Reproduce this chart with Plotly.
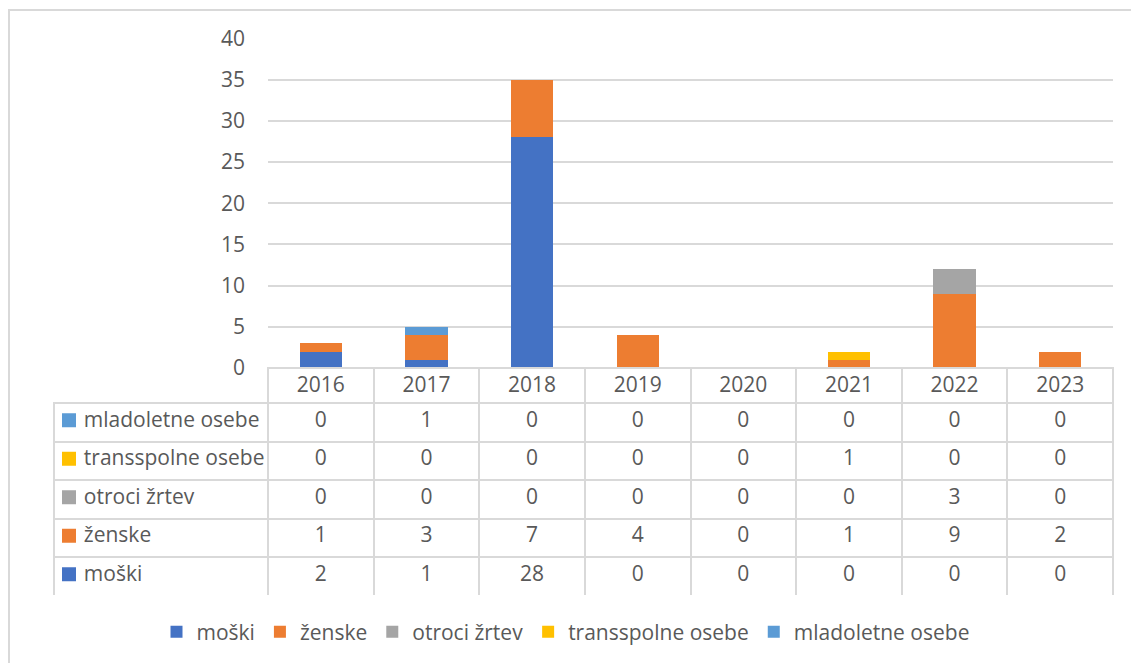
import plotly.graph_objects as go

W, H = 1131, 663

years = ["2016", "2017", "2018", "2019", "2020", "2021", "2022", "2023"]
moski = [2, 1, 28, 0, 0, 0, 0, 0]
zenske = [1, 3, 7, 4, 0, 1, 9, 2]
otroci_zrtev = [0, 0, 0, 0, 0, 0, 3, 0]
transspolne = [0, 0, 0, 0, 0, 1, 0, 0]
mladoletne = [0, 1, 0, 0, 0, 0, 0, 0]

series = [
    ("moški", moski, "#4472c4"),
    ("ženske", zenske, "#ed7d31"),
    ("otroci žrtev", otroci_zrtev, "#a5a5a5"),
    ("transspolne osebe", transspolne, "#ffc000"),
    ("mladoletne osebe", mladoletne, "#5b9bd5"),
]

FONT = "'Open Sans', sans-serif"
FS = 21
TXT = "#595959"
GRID = "#d9d9d9"
NBSP = "\u00a0"

# geometrija (px od zgornjega levega kota)
TAB_L, TAB_R = 54, 1113
PLOT_L = 268
HEAD_T, HEAD_H, ROW_H = 368, 35, 38.5


def px_x(p):
    return p / W


def px_y(p):
    return 1 - p / H


fig = go.Figure()

# stolpci
for name, vals, col in series:
    fig.add_trace(
        go.Bar(
            x=years,
            y=vals,
            name=name,
            marker=dict(color=col, line=dict(width=0)),
        )
    )

# podatkovna tabela pod grafom (vrstice v obratnem vrstnem redu)
rows = list(reversed(series))
# nedeljivi presledki, da se besedilo v celici ne prelomi
first_col = [NBSP * 4 + name.replace(" ", NBSP) for name, vals, col in rows]
columns = [first_col]
for i in range(len(years)):
    columns.append([str(vals[i]) for name, vals, col in rows])

n = len(years)
tab_bottom = HEAD_T + HEAD_H + ROW_H * len(rows)

fig.add_trace(
    go.Table(
        domain=dict(x=[px_x(TAB_L), px_x(TAB_R)], y=[px_y(tab_bottom), px_y(HEAD_T)]),
        columnwidth=[PLOT_L - TAB_L] + [(TAB_R - PLOT_L) / n] * n,
        header=dict(
            values=[""] + years,
            height=HEAD_H,
            align=["left"] + ["center"] * n,
            fill=dict(color=["rgba(0,0,0,0)"] + ["white"] * n),
            line=dict(color=["rgba(0,0,0,0)"] + [GRID] * n, width=2),
            font=dict(family=FONT, size=FS, color=TXT),
        ),
        cells=dict(
            values=columns,
            height=ROW_H,
            align=["left"] + ["center"] * n,
            fill=dict(color="white"),
            line=dict(color=GRID, width=2),
            font=dict(family=FONT, size=FS, color=TXT),
        ),
    )
)

# barvni kvadratki v prvem stolpcu tabele
shapes = []
for i, (name, vals, col) in enumerate(rows):
    cy = HEAD_T + HEAD_H + ROW_H * (i + 0.5) - 2
    shapes.append(
        dict(
            type="rect",
            xref="paper",
            yref="paper",
            x0=px_x(62),
            x1=px_x(76),
            y0=px_y(cy + 7),
            y1=px_y(cy - 7),
            fillcolor=col,
            line=dict(width=0),
            layer="above",
        )
    )

# obroba grafikona
shapes.append(
    dict(
        type="rect",
        xref="paper",
        yref="paper",
        x0=px_x(9),
        x1=1.2,
        y0=-0.2,
        y1=px_y(10),
        line=dict(color=GRID, width=2),
        fillcolor="rgba(0,0,0,0)",
        layer="below",
    )
)

fig.update_layout(
    width=W,
    height=H,
    margin=dict(l=0, r=0, t=0, b=0, autoexpand=False),
    paper_bgcolor="white",
    plot_bgcolor="white",
    barmode="stack",
    bargap=0.6,
    font=dict(family=FONT, size=FS, color=TXT),
    xaxis=dict(
        domain=[px_x(PLOT_L), px_x(TAB_R)],
        type="category",
        showticklabels=False,
        showline=True,
        linecolor=GRID,
        linewidth=2,
        ticks="",
        showgrid=False,
        fixedrange=True,
    ),
    yaxis=dict(
        domain=[px_y(HEAD_T), px_y(38.5)],
        range=[0, 40],
        dtick=5,
        showgrid=True,
        gridcolor=GRID,
        gridwidth=2,
        zeroline=False,
        showline=False,
        ticks="",
        ticklabelstandoff=22,
        tickfont=dict(family=FONT, size=FS, color=TXT),
        fixedrange=True,
    ),
    legend=dict(
        orientation="h",
        x=0.5,
        xanchor="center",
        y=px_y(632),
        yanchor="middle",
        font=dict(family=FONT, size=FS, color=TXT),
        itemwidth=30,
        traceorder="normal",
    ),
    shapes=shapes,
)

fig.write_html(
    "out.html",
    config={"displayModeBar": False},
    post_script="document.body.style.margin='0';document.body.style.overflow='hidden';",
)
